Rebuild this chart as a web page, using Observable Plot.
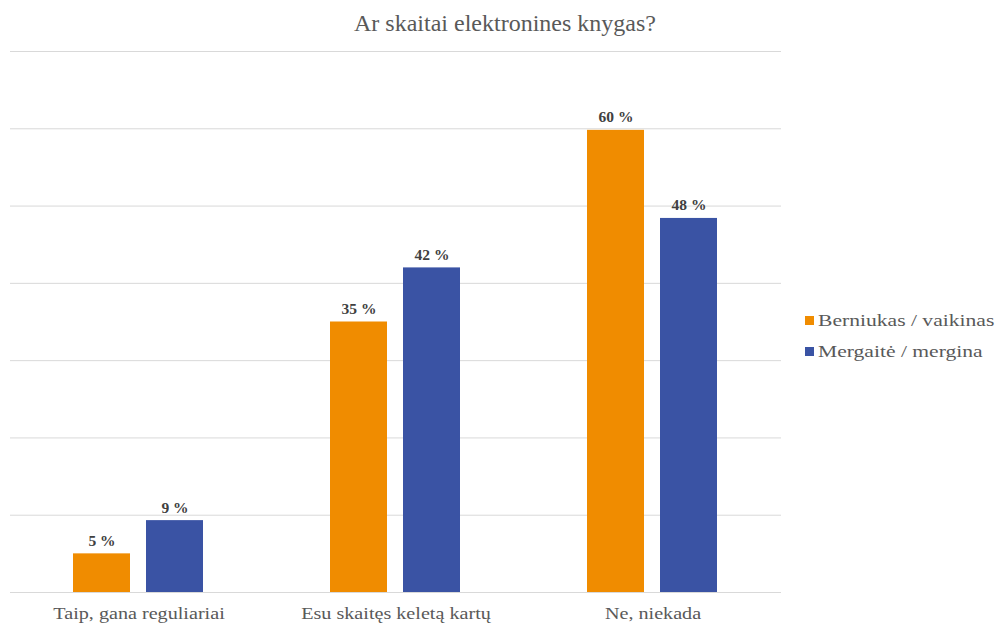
<!DOCTYPE html>
<html>
<head>
<meta charset="utf-8">
<script src="https://cdn.jsdelivr.net/npm/d3@7"></script>
<script src="https://cdn.jsdelivr.net/npm/@observablehq/plot@0.6"></script>
<style>
  html, body { margin: 0; padding: 0; background: #fff; }
  #wrap { position: relative; width: 997px; height: 626px; font-family: "Liberation Serif", "Times New Roman", serif; }
  #title { position: absolute; left: 0; width: 1010px; top: 10px; text-align: center; font-size: 24px; color: #595959; font-family: "Liberation Serif", serif; white-space: nowrap; }
  #legend { position: absolute; left: 805px; top: 305px; font-size: 17px; color: #595959; font-family: "Liberation Serif", serif; }
  .item { display: flex; align-items: center; height: 31px; line-height: 31px; white-space: nowrap; }
  .sw { width: 9px; height: 9px; margin-right: 4px; flex: none; }
  .lt { display: inline-block; transform: scaleX(1.27); transform-origin: left center; }
</style>
</head>
<body>
<div id="wrap">
  <div id="chart"></div>
  <div id="title"></div>
  <div id="legend"></div>
</div>
<script>
const title = "Ar skaitai elektronines knygas?";
const categories = ["Taip, gana reguliariai", "Esu skaitęs keletą kartų", "Ne, niekada"];
const seriesNames = ["Berniukas / vaikinas", "Mergaitė / mergina"];
const seriesColors = ["#F08C00", "#3A53A4"];
const boysValues = [5, 35, 59.8];
const girlsValues = [9.3, 42, 48.4];
const yTicks = [0, 10, 20, 30, 40, 50, 60, 70];

const data = [];
categories.forEach((c, i) => {
  data.push({category: c, series: seriesNames[0], value: boysValues[i]});
  data.push({category: c, series: seriesNames[1], value: girlsValues[i]});
});

const chart = Plot.plot({
  width: 997,
  height: 626,
  marginLeft: 9,
  marginRight: 216,
  marginTop: 51,
  marginBottom: 34,
  style: {fontFamily: '"Liberation Serif", "Times New Roman", serif', background: "#fff"},
  y: {domain: [0, 70], axis: null},
  fx: {domain: categories, padding: 0, axis: null},
  x: {domain: seriesNames, axis: null, paddingInner: 0.218, paddingOuter: 0.863},
  color: {domain: seriesNames, range: seriesColors},
  marks: [
    Plot.ruleY(yTicks, {stroke: "#d9d9d9", strokeWidth: 1}),
    Plot.barY(data, {fx: "category", x: "series", y: "value", fill: "series"}),
    Plot.text(data, {fx: "category", x: "series", y: "value", text: d => Math.round(d.value) + " %",
      dy: -8, lineAnchor: "bottom", fontWeight: "bold", fontSize: 15.5, fill: "#404040"}),
    Plot.axisFx({anchor: "bottom", tickSize: 0, tickPadding: 15, fontSize: 16, fill: "#595959", label: null})
  ]
});
document.getElementById("chart").appendChild(chart);

// horizontally stretch category labels like the reference rendering
chart.querySelectorAll('g[aria-label="fx-axis tick label"] text').forEach(t => {
  const tr = t.getAttribute("transform");
  if (tr) {
    t.setAttribute("transform", tr + " scale(1.26,1)");
  } else {
    const x = +t.getAttribute("x") || 0, y = +t.getAttribute("y") || 0;
    t.removeAttribute("x"); t.removeAttribute("y");
    t.setAttribute("transform", `translate(${x},${y}) scale(1.26,1)`);
  }
});

document.getElementById("title").textContent = title;
const leg = document.getElementById("legend");
seriesNames.forEach((s, i) => {
  const it = document.createElement("div");
  it.className = "item";
  const sw = document.createElement("span");
  sw.className = "sw";
  sw.style.background = seriesColors[i];
  const t = document.createElement("span");
  t.className = "lt";
  t.textContent = s;
  it.appendChild(sw); it.appendChild(t);
  leg.appendChild(it);
});
</script>
</body>
</html>
